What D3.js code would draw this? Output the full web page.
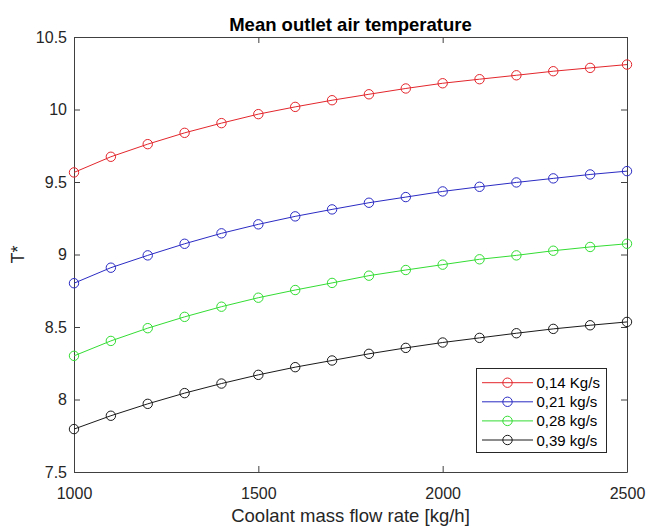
<!DOCTYPE html>
<html>
<head>
<meta charset="utf-8">
<script src="https://cdn.jsdelivr.net/npm/d3@7"></script>
<style>
  html, body { margin: 0; padding: 0; background: #fff; }
  svg { display: block; font-family: "Liberation Sans", Arial, sans-serif; }
</style>
</head>
<body>
<svg id="chart" width="647" height="526"></svg>
<script>
// Coolant mass flow rate [kg/h]
const flowRates = [1000, 1100, 1200, 1300, 1400, 1500, 1600, 1700, 1800, 1900, 2000, 2100, 2200, 2300, 2400, 2500];

// Mean outlet air temperature T* for each air mass flow
const t014 = [9.566, 9.674, 9.761, 9.839, 9.906, 9.968, 10.018, 10.064, 10.105, 10.145, 10.181, 10.209, 10.236, 10.264, 10.287, 10.310];
const t021 = [8.802, 8.909, 8.994, 9.074, 9.146, 9.208, 9.263, 9.311, 9.357, 9.396, 9.435, 9.467, 9.497, 9.525, 9.552, 9.575];
const t028 = [8.301, 8.404, 8.492, 8.570, 8.640, 8.702, 8.755, 8.804, 8.854, 8.893, 8.930, 8.967, 8.994, 9.026, 9.052, 9.074];
const t039 = [7.796, 7.888, 7.970, 8.044, 8.110, 8.170, 8.223, 8.269, 8.315, 8.356, 8.393, 8.425, 8.457, 8.487, 8.512, 8.535];

const seriesNames = ["0,14 Kg/s", "0,21 kg/s", "0,28 kg/s", "0,39 kg/s"];
const seriesValues = [t014, t021, t028, t039];
const seriesColors = ["#e3262c", "#2b2bc4", "#33dd33", "#1a1a1a"];

const xTicks = [1000, 1500, 2000, 2500];
const yTicks = [7.5, 8, 8.5, 9, 9.5, 10, 10.5];

const svg = d3.select("#chart");
const plotLeft = 74, plotRight = 627, plotTop = 37, plotBottom = 472;
const axisColor = "#404040";
const textColor = "#262626";

const x = d3.scaleLinear().domain([1000, 2500]).range([plotLeft, plotRight]);
const y = d3.scaleLinear().domain([7.5, 10.5]).range([plotBottom, plotTop]);

// Axes with inward ticks (box style)
const tickLen = 6;
const gx = svg.append("g").attr("transform", `translate(0,${plotBottom})`)
  .call(d3.axisBottom(x).tickValues(xTicks).tickFormat(d3.format("d")).tickSizeInner(-tickLen).tickSizeOuter(0).tickPadding(16));
const gxTop = svg.append("g").attr("transform", `translate(0,${plotTop})`)
  .call(d3.axisTop(x).tickValues(xTicks).tickFormat("").tickSizeInner(-tickLen).tickSizeOuter(0));
const gy = svg.append("g").attr("transform", `translate(${plotLeft},0)`)
  .call(d3.axisLeft(y).tickValues(yTicks).tickFormat(d => String(d)).tickSizeInner(-tickLen).tickSizeOuter(0).tickPadding(7));
const gyRight = svg.append("g").attr("transform", `translate(${plotRight},0)`)
  .call(d3.axisRight(y).tickValues(yTicks).tickFormat("").tickSizeInner(-tickLen).tickSizeOuter(0));

[gx, gxTop, gy, gyRight].forEach(g => {
  g.select(".domain").attr("stroke", axisColor).attr("stroke-width", 1);
  g.selectAll(".tick line").attr("stroke", axisColor);
  g.selectAll(".tick text").attr("fill", textColor).style("font-size", "16px")
    .style("font-family", "'Liberation Sans', Arial, sans-serif");
});

// Series lines and circle markers
const line = d3.line().x((d, i) => x(flowRates[i])).y(d => y(d));
seriesValues.forEach((vals, k) => {
  const g = svg.append("g");
  g.append("path").datum(vals)
    .attr("fill", "none").attr("stroke", seriesColors[k]).attr("stroke-width", 1)
    .attr("d", line);
  g.selectAll("circle").data(vals).join("circle")
    .attr("cx", (d, i) => x(flowRates[i])).attr("cy", d => y(d)).attr("r", 4.7)
    .attr("fill", "none").attr("stroke", seriesColors[k]).attr("stroke-width", 1);
});

// Title and axis labels
svg.append("text").attr("x", (plotLeft + plotRight) / 2).attr("y", 30.5)
  .attr("text-anchor", "middle").style("font-size", "18.5px").style("font-weight", "bold")
  .attr("fill", "#000").text("Mean outlet air temperature");
svg.append("text").attr("x", (plotLeft + plotRight) / 2).attr("y", 521.5)
  .attr("text-anchor", "middle").style("font-size", "18.5px").attr("fill", textColor)
  .text("Coolant mass flow rate [kg/h]");
svg.append("text").attr("transform", `translate(24,${(plotTop + plotBottom) / 2}) rotate(-90)`)
  .attr("text-anchor", "middle").style("font-size", "18px").attr("fill", textColor)
  .text("T*");

// Legend
const lg = svg.append("g");
lg.append("rect").attr("x", 476.5).attr("y", 368.5).attr("width", 130).attr("height", 84)
  .attr("fill", "#fff").attr("stroke", "#262626").attr("stroke-width", 1);
seriesNames.forEach((name, k) => {
  const yy = 382.7 + k * 19.1;
  lg.append("line").attr("x1", 482).attr("x2", 533).attr("y1", yy).attr("y2", yy)
    .attr("stroke", seriesColors[k]).attr("stroke-width", 1);
  lg.append("circle").attr("cx", 507.5).attr("cy", yy).attr("r", 4.7)
    .attr("fill", "none").attr("stroke", seriesColors[k]).attr("stroke-width", 1);
  lg.append("text").attr("x", 536.5).attr("y", yy + 5.5).style("font-size", "15px")
    .attr("fill", "#000").text(name);
});
</script>
</body>
</html>
